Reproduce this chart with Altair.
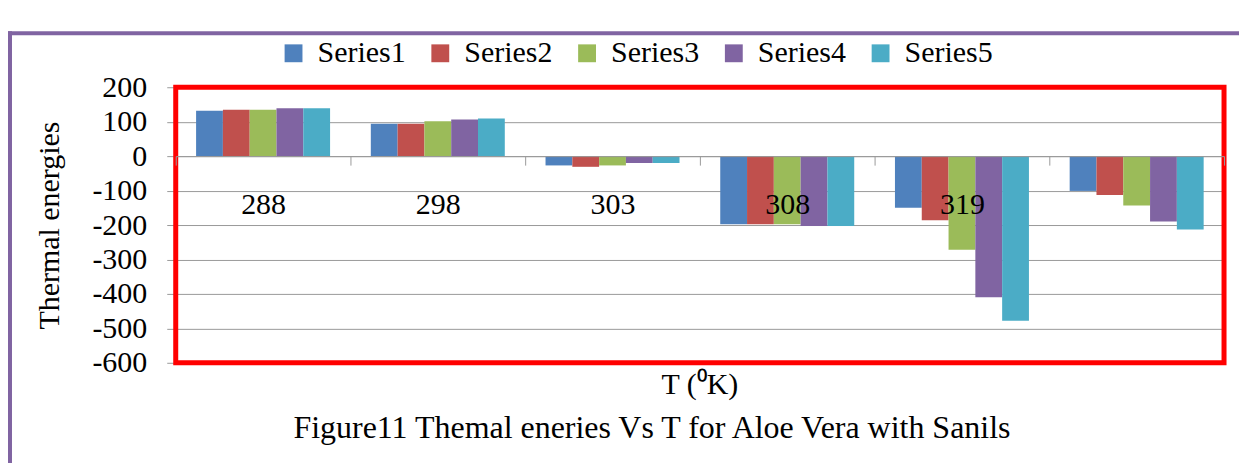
import altair as alt
import pandas as pd

# ---- data ----
temps = ["288", "298", "303", "308", "319", " "]
series_names = ["Series1", "Series2", "Series3", "Series4", "Series5"]
s1 = [132, 94, -27, -198, -150, -101]
s2 = [135, 94, -31, -198, -186, -113]
s3 = [135, 101, -27, -198, -272, -143]
s4 = [139, 106, -20, -203, -410, -190]
s5 = [139, 109, -20, -203, -478, -213]
colors = ["#4F81BD", "#C0504D", "#9BBB59", "#8064A2", "#4BACC6"]
y_ticks = [200, 100, 0, -100, -200, -300, -400, -500, -600]
y_title = "Thermal energies"
x_title = "T (\u2070K)"
fig_title = "Figure11 Themal eneries Vs T for Aloe Vera with Sanils"

rows = []
for name, vals in zip(series_names, [s1, s2, s3, s4, s5]):
    for t, v in zip(temps, vals):
        rows.append({"T": t, "series": name, "value": v})
df = pd.DataFrame(rows)

W, H = 1050, 276
FONT = "Liberation Serif"
FS = 30
GRID = "#9a9a9a"

bars = alt.Chart(df).mark_bar().encode(
    x=alt.X(
        "T:N", sort=temps,
        scale=alt.Scale(paddingInner=0, paddingOuter=0),
        axis=alt.Axis(
            title=None, orient="bottom", offset=-207, tickBand="extent",
            labelAngle=0, labelFont=FONT, labelFontSize=FS, labelColor="black",
            labelPadding=24, tickSize=9, tickColor=GRID, domainColor=GRID,
            grid=False, zindex=1,
        ),
    ),
    xOffset=alt.XOffset(
        "series:N", sort=series_names,
        scale=alt.Scale(paddingInner=0, paddingOuter=0.76),
    ),
    y=alt.Y(
        "value:Q",
        scale=alt.Scale(domain=[-600, 200], nice=False),
        axis=alt.Axis(
            values=y_ticks, title=y_title, titleFont=FONT, titleFontSize=FS,
            titleFontWeight="normal", titleColor="black", titlePadding=27,
            labelFont=FONT, labelFontSize=FS, labelColor="black",
            labelExpr="'' + datum.value",
            labelPadding=20, tickSize=9, tickColor=GRID, domain=False,
            grid=True, gridColor=GRID, gridWidth=1,
        ),
    ),
    color=alt.Color(
        "series:N", sort=series_names,
        scale=alt.Scale(domain=series_names, range=colors),
        legend=alt.Legend(
            orient="none", legendX=103, legendY=-49, direction="horizontal",
            title=None, symbolType="square", symbolSize=320,
            symbolStrokeWidth=0, labelFont=FONT, labelFontSize=FS,
            labelColor="black", labelOffset=9, columnPadding=19, padding=0,
        ),
    ),
)

one = pd.DataFrame({"a": [0]})

frame = alt.Chart(one).mark_rect(filled=False, stroke="#ff0000", strokeWidth=5).encode(
    x=alt.value(0), x2=alt.value(W), y=alt.value(0), y2=alt.value(H)
)

xt = alt.Chart(pd.DataFrame({"t": [x_title]})).mark_text(
    font=FONT, fontSize=FS, color="black", baseline="middle", align="center"
).encode(text="t:N", x=alt.value(W / 2), y=alt.value(H + 22))

ft = alt.Chart(pd.DataFrame({"t": [fig_title]})).mark_text(
    font=FONT, fontSize=32, color="black", baseline="middle", align="center"
).encode(text="t:N", x=alt.value(477), y=alt.value(H + 65))

purple_top = alt.Chart(one).mark_rule(color="#8064A2", strokeWidth=4).encode(
    x=alt.value(-168), x2=alt.value(W + 60), y=alt.value(-54)
)
purple_left = alt.Chart(one).mark_rule(color="#8064A2", strokeWidth=4).encode(
    x=alt.value(-166), y=alt.value(-56), y2=alt.value(H + 120)
)

chart = alt.layer(bars, frame, xt, ft, purple_top, purple_left).properties(
    width=W, height=H,
    autosize=alt.AutoSizeParams(type="none"),
    padding={"left": 168, "top": 79, "right": 15, "bottom": 100},
).configure(background="white", font=FONT).configure_view(
    stroke=None
).configure_legend(labelFont=FONT, labelFontSize=FS)

chart.save("out.html", embed_options={"renderer": "svg", "actions": False})
